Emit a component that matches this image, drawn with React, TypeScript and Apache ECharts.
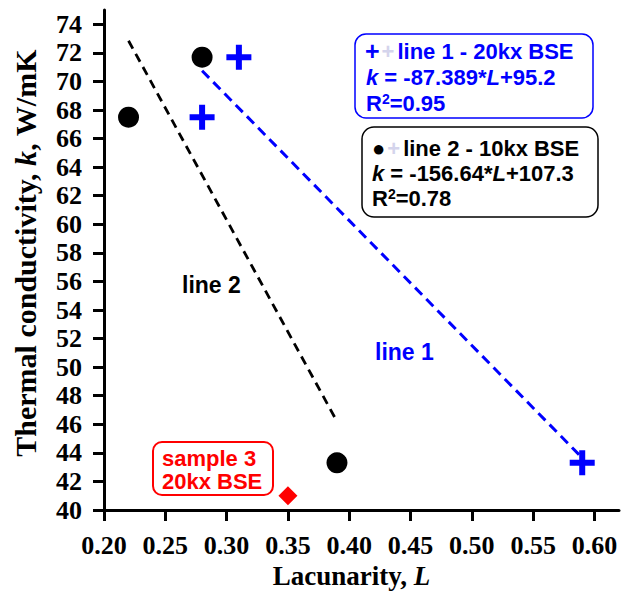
import React, { useEffect, useRef } from "react";
import * as echarts from "echarts";

// ---- data ----
const line2Points: [number, number][] = [
  [0.22, 67.5],
  [0.28, 71.7],
  [0.39, 43.3],
];
const line1Points: [number, number][] = [
  [0.28, 67.5],
  [0.31, 71.7],
  [0.59, 43.3],
];
const sample3Point: [number, number][] = [[0.35, 41.0]];
const line1Fit: [number, number][] = [
  [0.28, 70.75],
  [0.59, 43.65],
];
const line2Fit: [number, number][] = [
  [0.22, 72.85],
  [0.39, 46.2],
];
const xTicks = [0.2, 0.25, 0.3, 0.35, 0.4, 0.45, 0.5, 0.55, 0.6];
const yTicks = [40, 42, 44, 46, 48, 50, 52, 54, 56, 58, 60, 62, 64, 66, 68, 70, 72, 74];

const SANS = "'Liberation Sans', Arial, sans-serif";
const SERIF = "'Liberation Serif', 'Times New Roman', serif";
const BLUE = "#0000ff";
const RED = "#ff0000";

const PLUS = "path://M3.8,0H6.2V3.8H10V6.2H6.2V10H3.8V6.2H0V3.8H3.8Z";

function tok(color: string, size: number, italic = false) {
  return {
    fontFamily: SANS,
    fontWeight: "bold" as const,
    fontStyle: italic ? ("italic" as const) : ("normal" as const),
    fontSize: size,
    fill: color,
    lineHeight: 22,
  };
}

function legendRich(color: string, bigSize: number) {
  return {
    t: tok(color, 22),
    i: tok(color, 22, true),
    big: { ...tok(color, bigSize), lineHeight: 20 },
    sup: { ...tok(color, 14), lineHeight: 14, verticalAlign: "top" as const },
    f: { ...tok("#d4d4ec", 22), padding: [0, 3, 0, 2] },
  };
}

function rowText(x: number, y: number, text: string, color: string, bigSize = 24) {
  return {
    type: "text",
    x,
    y,
    z: 10,
    style: {
      text,
      rich: legendRich(color, bigSize),
      fill: color,
      font: `bold 22px ${SANS}`,
      verticalAlign: "middle",
      align: "left",
    },
  };
}

export default function App() {
  const ref = useRef<HTMLDivElement>(null);
  useEffect(() => {
    if (!ref.current) return;
    const chart = echarts.init(ref.current, undefined, { renderer: "svg" });
    const axisLine = { show: true, lineStyle: { color: "#000", width: 3 } };
    chart.setOption({
      animation: false,
      backgroundColor: "#fff",
      grid: { left: 104, right: 12, top: 10, bottom: 83, containLabel: false, outerBoundsMode: "none" },
      xAxis: {
        type: "value",
        min: 0.2,
        max: 0.62,
        interval: 0.05,
        axisLine: { ...axisLine, onZero: false },
        axisTick: { show: true, length: 11, lineStyle: { width: 3, color: "#000" }, customValues: xTicks },
        axisLabel: {
          customValues: xTicks,
          formatter: (v: number) => v.toFixed(2),
          fontFamily: SERIF,
          fontWeight: "bold",
          fontSize: 26,
          color: "#000",
          margin: 22,
        },
        splitLine: { show: false },
        name: "Lacunarity, {i|L}",
        nameLocation: "middle",
        nameGap: 52,
        nameTextStyle: {
          fontFamily: SERIF,
          fontWeight: "bold",
          fontSize: 27,
          color: "#000",
          padding: [0, 20, 0, 0],
          rich: {
            i: { fontFamily: SERIF, fontWeight: "bold", fontStyle: "italic", fontSize: 27, color: "#000" },
          },
        },
      },
      yAxis: {
        type: "value",
        min: 40,
        max: 75,
        interval: 2,
        axisLine: { ...axisLine, onZero: false },
        axisTick: { show: true, length: 11, lineStyle: { width: 3, color: "#000" }, customValues: yTicks },
        axisLabel: {
          customValues: yTicks,
          formatter: (v: number) => String(Math.round(v)),
          fontFamily: SERIF,
          fontWeight: "bold",
          fontSize: 26,
          color: "#000",
          margin: 22,
        },
        splitLine: { show: false },
        name: "Thermal conductivity, {i|k}, W/mK",
        nameLocation: "middle",
        nameGap: 64,
        nameTextStyle: {
          fontFamily: SERIF,
          fontWeight: "bold",
          fontSize: 30,
          color: "#000",
          padding: [0, 0, 0, 14],
          rich: {
            i: { fontFamily: SERIF, fontWeight: "bold", fontStyle: "italic", fontSize: 30, color: "#000" },
          },
        },
      },
      series: [
        {
          type: "line",
          data: line2Fit,
          symbol: "none",
          lineStyle: { color: "#000", width: 2.8, type: [9, 6] },
          z: 2,
        },
        {
          type: "line",
          data: line1Fit,
          symbol: "none",
          lineStyle: { color: BLUE, width: 3, type: [10, 6] },
          z: 2,
        },
        {
          type: "scatter",
          data: line2Points,
          symbol: "circle",
          symbolSize: 21,
          itemStyle: { color: "#000", opacity: 1 },
          z: 3,
        },
        {
          type: "scatter",
          data: line1Points,
          symbol: PLUS,
          symbolSize: 25,
          itemStyle: { color: BLUE, opacity: 1 },
          z: 3,
        },
        {
          type: "scatter",
          data: sample3Point,
          symbol: "diamond",
          symbolSize: [19, 19],
          itemStyle: { color: RED, opacity: 1 },
          z: 3,
        },
      ],
      graphic: [
        {
          type: "rect",
          z: 9,
          shape: { x: 355, y: 34, width: 238, height: 84, r: 11 },
          style: { fill: "#fff", stroke: BLUE, lineWidth: 1.5 },
        },
        rowText(365, 51, "{big|+}{f|+}{t|line 1 - 20kx BSE}", BLUE, 25),
        rowText(366, 77, "{i|k}{t| = -87.389*}{i|L}{t|+95.2}", BLUE),
        rowText(366, 103, "{t|R}{sup|2}{t|=0.95}", BLUE),
        {
          type: "rect",
          z: 9,
          shape: { x: 362, y: 127, width: 236, height: 90, r: 12 },
          style: { fill: "#fff", stroke: "#000", lineWidth: 1.5 },
        },
        rowText(372, 148, "{big|●}{f|+}{t|line 2 - 10kx BSE}", "#000", 22),
        rowText(372, 173, "{i|k}{t| = -156.64*}{i|L}{t|+107.3}", "#000"),
        rowText(372, 198, "{t|R}{sup|2}{t|=0.78}", "#000"),
        {
          type: "rect",
          z: 9,
          shape: { x: 153, y: 442, width: 120, height: 53, r: 9 },
          style: { fill: "#fff", stroke: RED, lineWidth: 2 },
        },
        {
          type: "text",
          x: 162,
          y: 458,
          z: 10,
          style: { text: "sample 3", fill: RED, font: `bold 22px ${SANS}`, verticalAlign: "middle" },
        },
        {
          type: "text",
          x: 162,
          y: 481,
          z: 10,
          style: { text: "20kx BSE", fill: RED, font: `bold 22px ${SANS}`, verticalAlign: "middle" },
        },
        {
          type: "text",
          x: 182,
          y: 285,
          z: 10,
          style: { text: "line 2", fill: "#000", font: `bold 23px ${SANS}`, verticalAlign: "middle" },
        },
        {
          type: "text",
          x: 375,
          y: 352,
          z: 10,
          style: { text: "line 1", fill: BLUE, font: `bold 23px ${SANS}`, verticalAlign: "middle" },
        },
      ],
    });
    return () => chart.dispose();
  }, []);
  return (
    <div
      ref={ref}
      style={{ position: "fixed", left: 0, top: 0, width: 631, height: 593, background: "#fff" }}
    />
  );
}
